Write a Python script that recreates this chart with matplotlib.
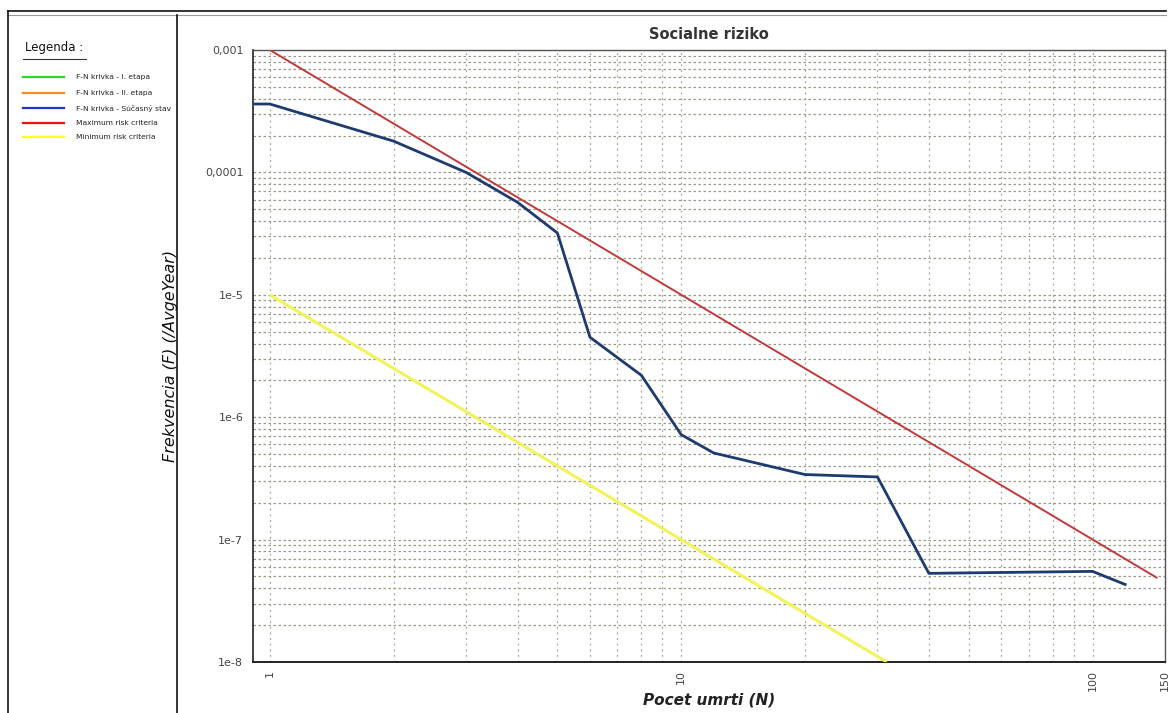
import matplotlib
matplotlib.use("Agg")
import matplotlib.pyplot as plt
from matplotlib.lines import Line2D
from matplotlib.ticker import FixedLocator, FixedFormatter, LogLocator, NullFormatter

# data
current_n = [0.9, 1, 2, 3, 4, 5, 6, 8, 10, 12, 20, 30, 40, 100, 120]
current_f = [3.62e-4, 3.62e-4, 1.8e-4, 1.0e-4, 5.7e-5, 3.2e-5, 4.5e-6, 2.2e-6,
             7.2e-7, 5.1e-7, 3.4e-7, 3.25e-7, 5.3e-8, 5.5e-8, 4.3e-8]
max_n = [1, 143]
max_f = [1e-3, 4.9e-8]
min_n = [1, 31.6]
min_f = [1e-5, 1e-8]

y_ticks = [1e-8, 1e-7, 1e-6, 1e-5, 1e-4, 1e-3]
y_tick_labels = ["1e-8", "1e-7", "1e-6", "1e-5", "0,0001", "0,001"]
x_ticks = [1, 10, 100, 150]
x_tick_labels = ["1", "10", "100", "150"]

legend_labels = ["F-N krivka - I. etapa", "F-N krivka - II. etapa",
                 "F-N krivka - Súčasný stav", "Maximum risk criteria",
                 "Minimum risk criteria"]
legend_colors = ["#22dd22", "#ff8c1a", "#2233cc", "#ee1111", "#ffff22"]

W, H = 1168, 713
fig = plt.figure(figsize=(W / 100, H / 100), dpi=100)
fig.patch.set_facecolor("white")


def fx(px):
    return px / W


def fy(py):
    return 1 - py / H


# outer frame and panel divider
fig.add_artist(Line2D([fx(8), fx(1166)], [fy(11), fy(11)], color="#111111", lw=1.2))
fig.add_artist(Line2D([fx(8), fx(1166)], [fy(15), fy(15)], color="#999999", lw=0.8))
fig.add_artist(Line2D([fx(8), fx(8)], [fy(11), fy(713)], color="#111111", lw=1.2))
fig.add_artist(Line2D([fx(177), fx(177)], [fy(15), fy(713)], color="#111111", lw=1.2))

# legend panel
fig.text(fx(25), fy(48), "Legenda :", fontsize=8.5, va="center", ha="left", color="#111111")
fig.add_artist(Line2D([fx(23), fx(86)], [fy(59), fy(59)], color="#333333", lw=0.8))
legend_y = [77, 93, 108, 123, 137]
for ly, lab, col in zip(legend_y, legend_labels, legend_colors):
    fig.add_artist(Line2D([fx(23), fx(64)], [fy(ly), fy(ly)], color=col, lw=1.6))
    fig.text(fx(76), fy(ly), lab, fontsize=5.4, va="center", ha="left", color="#222222")

ax = fig.add_axes([fx(253), fy(662), fx(1165 - 253), (662 - 50) / H])
ax.set_xscale("log")
ax.set_yscale("log")
ax.set_xlim(0.91, 150)
ax.set_ylim(1e-8, 1e-3)

grid_color = "#a8a890"
ax.xaxis.set_major_locator(FixedLocator(x_ticks))
ax.xaxis.set_major_formatter(FixedFormatter(x_tick_labels))
ax.xaxis.set_minor_locator(LogLocator(base=10, subs=range(2, 10), numticks=20))
ax.xaxis.set_minor_formatter(NullFormatter())
ax.yaxis.set_major_locator(FixedLocator(y_ticks))
ax.yaxis.set_major_formatter(FixedFormatter(y_tick_labels))
ax.yaxis.set_minor_locator(LogLocator(base=10, subs=range(2, 10), numticks=20))
ax.yaxis.set_minor_formatter(NullFormatter())

ax.grid(which="both", axis="x", color=grid_color, linestyle=(0, (1.5, 3)), linewidth=0.9)
ax.grid(which="both", axis="y", color="#999988", linestyle=(0, (2, 2)), linewidth=0.9)
ax.tick_params(which="both", length=0)
ax.tick_params(axis="x", labelsize=8, labelcolor="#444444", labelrotation=90, pad=6)
ax.tick_params(axis="y", labelsize=8, labelcolor="#444444", pad=7)

ax.plot(min_n, min_f, color="#f2f25a", lw=2.2, solid_capstyle="butt", zorder=3)
ax.plot(max_n, max_f, color="#c0393b", lw=1.4, zorder=3)
ax.plot(current_n, current_f, color="#1f3a6e", lw=2.0, zorder=4)

for s in ax.spines.values():
    s.set_color("#555555")
    s.set_linewidth(1.0)
ax.spines["bottom"].set_color("#222222")
ax.spines["bottom"].set_linewidth(1.4)
ax.spines["left"].set_color("#222222")
ax.spines["left"].set_linewidth(1.2)

ax.set_title("Socialne riziko", fontsize=10.5, fontweight="bold", color="#333333", pad=8)
ax.set_xlabel("Pocet umrti (N)", fontsize=11, fontstyle="italic", fontweight="bold",
              color="#222222")
ax.xaxis.set_label_coords(0.5, -(700 - 662) / (662 - 50), transform=ax.transAxes)
ax.xaxis.label.set_va("center")
ax.set_ylabel("Frekvencia (F) (/AvgeYear)", fontsize=11.5, fontstyle="italic",
              color="#111111")
ax.yaxis.set_label_coords(-(253 - 171) / (1165 - 253), 0.5, transform=ax.transAxes)
ax.yaxis.label.set_va("center")

fig.savefig("out.png", dpi=100, facecolor="white")
